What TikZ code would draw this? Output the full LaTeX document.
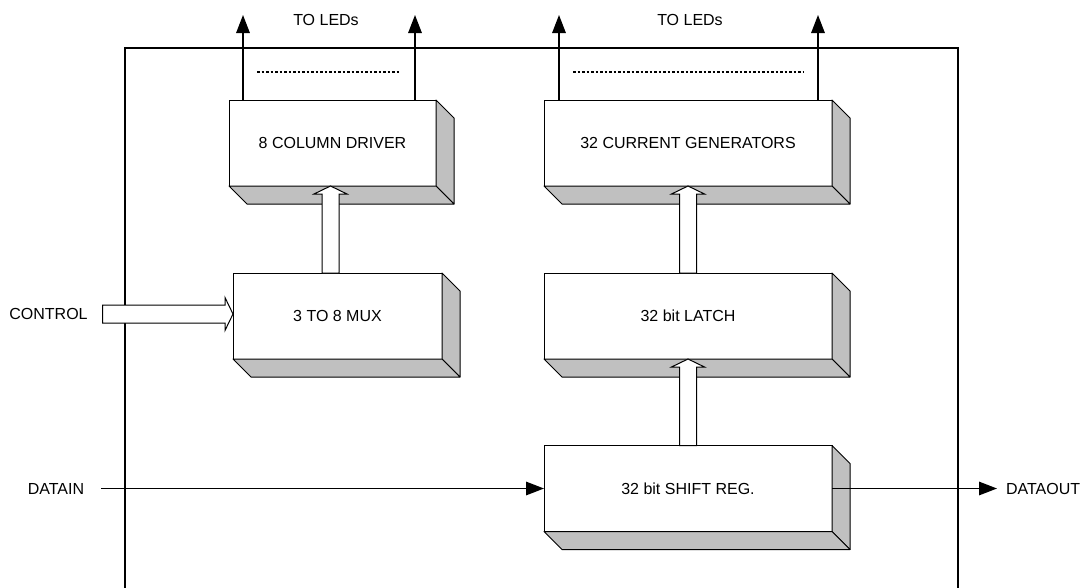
\documentclass[tikz,border=0pt]{standalone}
\usepackage{fontspec}
\setmainfont{Liberation Sans}
\usetikzlibrary{arrows.meta,calc}
\definecolor{sidegray}{HTML}{C0C0C0}
\tikzset{
 blk/.style={draw, fill=white, line width=1pt, inner sep=0pt, outer sep=0pt, font=\fontsize{16}{19}\selectfont},
 face/.style={draw, fill=sidegray, line width=1pt, line join=round},
 sig/.style={line width=1.5pt, -{Triangle[length=18pt,width=13.5pt]}},
 hollow/.style={draw, fill=white, line width=1pt, line join=miter},
 lbl/.style={inner sep=0pt, outer sep=0pt, font=\fontsize{16}{19}\selectfont},
 frame/.style={line width=2pt},
 dots/.style={line width=1.5pt, dash pattern=on 2.5pt off 2pt},
}
\newcommand\boxfaces[1]{%
 \path[face] (#1.north east) -- ++(18,18) -- ($(#1.south east)+(18,18)$) -- (#1.south east) -- cycle;
 \path[face] (#1.south west) -- ++(18,18) -- ($(#1.south east)+(18,18)$) -- (#1.south east) -- cycle;
}
\begin{document}
\begin{tikzpicture}[x=1pt,y=-1pt]
\useasboundingbox (0,0) rectangle (1088,587);
% frame
\coordinate (fbl) at (125,600);
\coordinate (ftl) at (125,48);
\coordinate (ftr) at (958,48);
\coordinate (fbr) at (958,600);
\draw[frame] (fbl) -- (ftl) -- (ftr) -- (fbr);
% blocks
\node[blk, minimum width=207pt, minimum height=86pt] (drv) at (332.5,143) {8 COLUMN DRIVER};
\node[blk, minimum width=288pt, minimum height=86pt] (gen) at (688,143) {32 CURRENT GENERATORS};
\node[blk, minimum width=209pt, minimum height=86pt] (mux) at (337.5,316) {3 TO 8 MUX};
\node[blk, minimum width=288pt, minimum height=86pt] (latch) at (688,316) {32 bit LATCH};
\node[blk, minimum width=288pt, minimum height=86pt] (sr) at (688,488.5) {32 bit SHIFT REG.};
\boxfaces{drv}
\boxfaces{gen}
\boxfaces{mux}
\boxfaces{latch}
\boxfaces{sr}
% labels
\node[lbl] (led1) at (326,20) {TO LEDs};
\node[lbl] (led2) at (690,20) {TO LEDs};
\node[lbl] (control) at (48.5,314) {CONTROL};
\node[lbl] (datain) at (56,488.5) {DATAIN};
\node[lbl, anchor=west] (dataout) at (1006,488.5) {DATAOUT};
% LED outputs
\coordinate (l1) at (243,15);
\coordinate (l2) at (415,15);
\coordinate (l3) at (559,15);
\coordinate (l4) at (818,15);
\draw[sig] (drv.north -| l1) -- (l1);
\draw[sig] (drv.north -| l2) -- (l2);
\draw[sig] (gen.north -| l3) -- (l3);
\draw[sig] (gen.north -| l4) -- (l4);
\coordinate (d1a) at (257,72);
\coordinate (d1b) at (400,72);
\coordinate (d2a) at (573,72);
\coordinate (d2b) at (803,72);
\draw[dots] (d1a) -- (d1b);
\draw[dots] (d2a) -- (d2b);
% hollow bus arrows
\draw[hollow] let \p1=($(mux.north)+(-7,0)$), \p2=(drv.south) in
 (\x1-8.5pt,\y1) -- (\x1-8.5pt,\y2-8pt) -- (\x1-16.5pt,\y2-8pt) -- (\x1,\y2)
 -- (\x1+16.5pt,\y2-8pt) -- (\x1+8.5pt,\y2-8pt) -- (\x1+8.5pt,\y1) -- cycle;
\draw[hollow] let \p1=(latch.north), \p2=(gen.south) in
 (\x1-8.5pt,\y1) -- (\x1-8.5pt,\y2-8pt) -- (\x1-16.5pt,\y2-8pt) -- (\x1,\y2)
 -- (\x1+16.5pt,\y2-8pt) -- (\x1+8.5pt,\y2-8pt) -- (\x1+8.5pt,\y1) -- cycle;
\draw[hollow] let \p1=(sr.north), \p2=(latch.south) in
 (\x1-8.5pt,\y1) -- (\x1-8.5pt,\y2-8pt) -- (\x1-16.5pt,\y2-8pt) -- (\x1,\y2)
 -- (\x1+16.5pt,\y2-8pt) -- (\x1+8.5pt,\y2-8pt) -- (\x1+8.5pt,\y1) -- cycle;
\draw[hollow] let \p1=([xshift=15pt]control.east), \p2=(mux.west) in
 (\x1,\y1+9pt) -- (\x2-8pt,\y1+9pt) -- (\x2-8pt,\y1+16.5pt) -- (\x2,\y1)
 -- (\x2-8pt,\y1-16.5pt) -- (\x2-8pt,\y1-9pt) -- (\x1,\y1-9pt) -- cycle;
% data path
\draw[sig] ([xshift=17pt]datain.east) -- (sr.west);
\draw[sig] (sr.east) -- ([xshift=-9pt]dataout.west);
\end{tikzpicture}
\end{document}
